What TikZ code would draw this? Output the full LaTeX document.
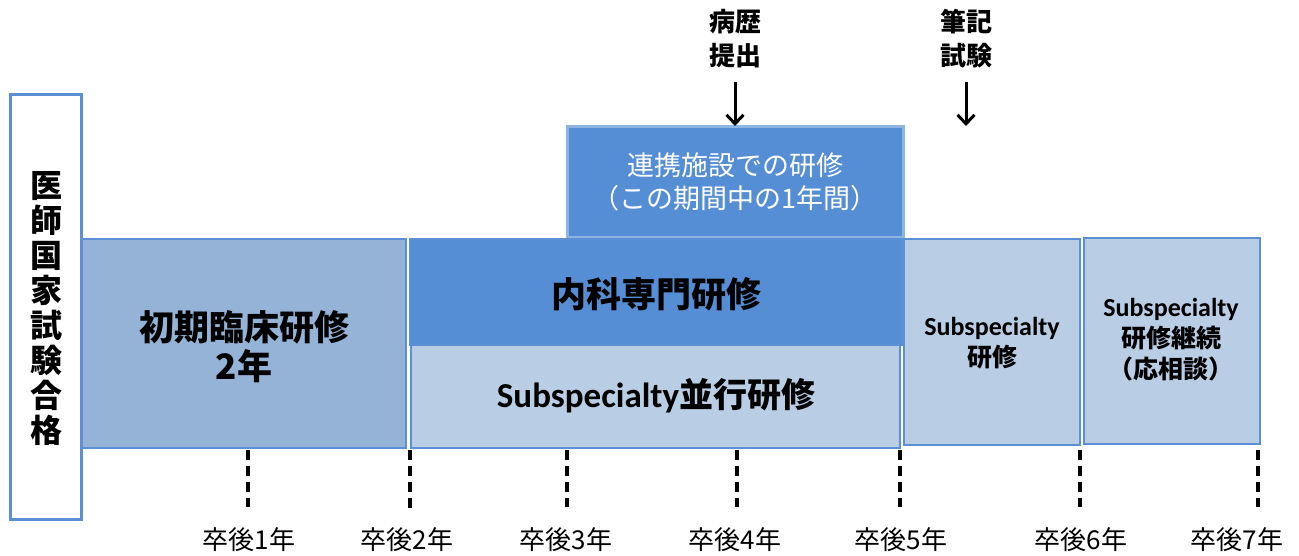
\documentclass[tikz,border=0pt]{standalone}
\usepackage{fontspec}
\setmainfont{Noto Sans CJK JP}
\newfontfamily\cjk{Noto Sans CJK JP}
\newfontfamily\lat{Carlito}
\usetikzlibrary{arrows.meta}
\definecolor{bdr}{HTML}{5B8FD6}
\definecolor{midblue}{HTML}{95B3D7}
\definecolor{darkblue}{HTML}{558ED5}
\definecolor{lightblue}{HTML}{B9CDE5}
\definecolor{paleedge}{HTML}{8EB4E3}
\tikzset{
  x=1pt,y=-1pt,
  blk/.style={draw=bdr,line width=1.5pt,inner sep=0pt},
  mid/.style={font=\cjk\bfseries\fontsize{25}{31}\selectfont,align=center},
  yr/.style={font=\cjk\fontsize{26}{30}\selectfont},
  tick/.style={line width=3.2pt,dash pattern=on 10pt off 6pt},
  arr/.style={line width=3pt,-{Straight Barb[length=9pt,width=17pt,line width=3pt]}},
}
\newcommand{\SubSp}[1]{{\lat\bfseries\fontsize{#1}{#1}\selectfont Subspecialty}}
\begin{document}
\begin{tikzpicture}
\useasboundingbox (0,0) rectangle (1299,556);
% left box
\draw[draw=bdr,line width=3pt,fill=white] (10,95) rectangle (81,519);
\node[font=\cjk\bfseries\fontsize{32}{35}\selectfont,align=center] (pass) at (46,308) {医\\師\\国\\家\\試\\験\\合\\格};
% shapes
\draw[blk,fill=midblue] (82,239) rectangle (406,448);
\node[font=\cjk\bfseries\fontsize{35}{39}\selectfont,align=center] (init) at (244,347) {初期臨床研修\\2年};
\draw[draw=paleedge,line width=3pt,fill=darkblue] (567,127) rectangle (903,238);
\node[font=\cjk\fontsize{27}{33}\selectfont,text=white,align=center] (renkei) at (735,182) {連携施設での研修\\（この期間中の1年間）};
\draw[blk,fill=darkblue] (410,239) rectangle (902,345);
\node[font=\cjk\bfseries\fontsize{35}{40}\selectfont] (naika) at (656,294) {内科専門研修};
\draw[blk,fill=lightblue] (411,345) rectangle (900,448);
\node[font=\cjk\bfseries\fontsize{34}{38}\selectfont] (para) at (656,396) {\SubSp{35}並行研修};
\draw[blk,fill=lightblue] (904,239) rectangle (1080,445);
\node[mid] (sub) at (992,343) {\SubSp{26}\\研修};
\draw[blk,fill=lightblue] (1084,238) rectangle (1260,444);
\node[mid] (cont) at (1171,340) {\SubSp{26}\\研修継続\\（応相談）};
% top labels and arrows
\node[font=\cjk\bfseries\fontsize{26}{34}\selectfont,align=center] (byo) at (735,39) {病歴\\提出};
\node[font=\cjk\bfseries\fontsize{26}{34}\selectfont,align=center] (hik) at (966,39) {筆記\\試験};
\coordinate (byoend) at (735,126);
\coordinate (hikend) at (966,126);
\draw[arr] (735,82) -- (byoend);
\draw[arr] (966,82) -- (hikend);
% year ticks
\foreach \xx/\lx/\n/\ya/\yb in {248/249/1/450/507, 410/407/2/450/510, 567/566/3/450/507, 737/735/4/450/507, 900/901/5/450/507, 1080/1081/6/450/507, 1258/1237/7/450/507}{
  \coordinate (t\n a) at (\xx,\ya);
  \coordinate (t\n b) at (\xx,\yb);
  \draw[tick] (t\n a) -- (t\n b);
  \node[yr] (y\n) at (\lx,540) {卒後\n 年};
}
\end{tikzpicture}
\end{document}
